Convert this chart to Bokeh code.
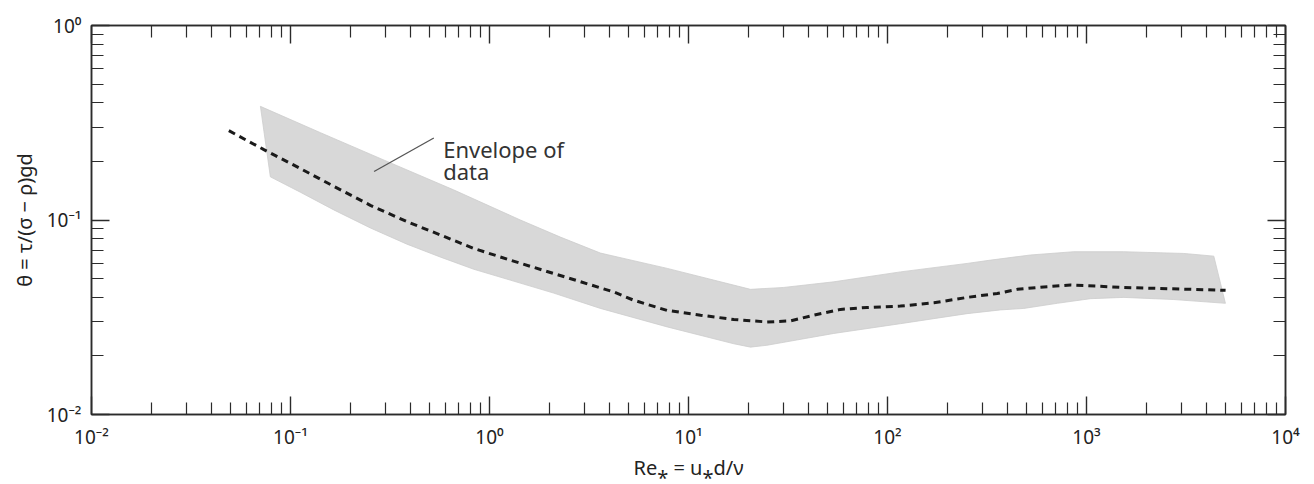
from bokeh.plotting import figure
from bokeh.models import LogAxis, FixedTicker, CustomJSTickFormatter, Range1d
from bokeh.core.properties import value
from bokeh.embed import file_html
from bokeh.resources import INLINE

# Shields curve (dashed) : critical Shields parameter vs boundary Reynolds number
shields_re = [0.049, 0.0735, 0.112, 0.165, 0.252, 0.385, 0.568, 0.834, 1.27, 2.10,
              4.2, 5.3, 7.8, 11.5, 16.9, 24.8, 32.6, 42.6, 58, 79, 116, 171, 251,
              356, 449, 610, 832, 1130, 1540, 2270, 3330, 5000]
shields_theta = [0.288, 0.230, 0.184, 0.149, 0.119, 0.098, 0.0837, 0.0714, 0.0622,
                 0.0531, 0.0427, 0.0387, 0.0343, 0.0324, 0.0308, 0.0299, 0.0303,
                 0.0324, 0.0347, 0.0355, 0.0361, 0.0375, 0.0400, 0.0419, 0.0440,
                 0.0453, 0.0463, 0.0457, 0.0450, 0.0445, 0.0440, 0.0435]

# Envelope of data: upper boundary (left -> right, incl. right edge)
env_upper_re = [0.0706, 0.1416, 0.306, 0.659, 1.43, 2.27, 3.61, 7.82, 20.5, 30.1,
                53.7, 116, 251, 330, 523, 863, 1540, 3083, 4362, 4713]
env_upper_theta = [0.384, 0.281, 0.200, 0.143, 0.100, 0.0817, 0.0676, 0.0564, 0.0440,
                   0.0450, 0.0481, 0.0541, 0.0598, 0.0622, 0.0661, 0.0687, 0.0687,
                   0.0673, 0.0652, 0.0473]
# Envelope of data: lower boundary (left -> right)
env_lower_re = [0.0792, 0.112, 0.165, 0.252, 0.385, 0.568, 0.834, 1.27, 2.10, 3.61,
                7.82, 16.9, 20.5, 24.8, 53.7, 116, 251, 370, 484, 713, 1047, 1540,
                2748, 4990]
env_lower_theta = [0.1667, 0.139, 0.1127, 0.0910, 0.0751, 0.0644, 0.0558, 0.0491,
                   0.0421, 0.0351, 0.0282, 0.0231, 0.0222, 0.0227, 0.0261, 0.0293,
                   0.0330, 0.0345, 0.0351, 0.0373, 0.0394, 0.0400, 0.0390, 0.0373]

# axis decades
x_decades = [-2, -1, 0, 1, 2, 3, 4]
y_decades = [-2, -1, 0]

annotation_lines = ["Envelope of", "data"]
x_label = "Re\u204e = u\u204ed/\u03bd"
y_label = "\u03b8 = \u03c4/(\u03c3 \u2212 \u03c1)gd"

FONT = "Noto Sans"
AX = "#2b2b2b"

p = figure(width=1314, height=484, x_axis_type="log", y_axis_type="log",
           x_range=Range1d(10.0 ** x_decades[0], 10.0 ** x_decades[-1]),
           y_range=Range1d(10.0 ** y_decades[0], 10.0 ** y_decades[-1]),
           output_backend="svg", toolbar_location=None,
           min_border_left=91, min_border_right=29, min_border_top=25,
           min_border_bottom=70, background_fill_color="white",
           border_fill_color="white")
p.xgrid.visible = False
p.ygrid.visible = False
p.outline_line_color = AX
p.outline_line_width = 1.5

sup_fmt = CustomJSTickFormatter(code="""
const e = Math.round(Math.log10(tick));
const sup = {'-':'\u207b','0':'\u2070','1':'\u00b9','2':'\u00b2','3':'\u00b3','4':'\u2074'};
return '10' + String(e).split('').map(c => sup[c]).join('');
""")


def make_ticker(decades):
    majors = [10.0 ** e for e in decades]
    minors = [m * 10.0 ** e for e in decades[:-1] for m in range(2, 10)]
    return FixedTicker(ticks=majors, minor_ticks=minors)


def style(ax):
    ax.major_tick_in = 18
    ax.major_tick_out = 0
    ax.minor_tick_in = 12
    ax.minor_tick_out = 0
    ax.major_tick_line_color = AX
    ax.minor_tick_line_color = AX
    ax.major_tick_line_width = 1.4
    ax.minor_tick_line_width = 1.2
    ax.axis_line_color = AX
    ax.axis_line_width = 1.5
    ax.major_label_text_font = FONT
    ax.major_label_text_font_size = "19px"
    ax.major_label_text_color = "#222"
    ax.axis_label_text_font = FONT
    ax.axis_label_text_font_style = "normal"
    ax.axis_label_text_font_size = "20px"
    ax.axis_label_text_color = "#222"


xa = p.xaxis[0]
ya = p.yaxis[0]
style(xa)
style(ya)
xa.ticker = make_ticker(x_decades)
ya.ticker = make_ticker(y_decades)
xa.formatter = sup_fmt
ya.formatter = sup_fmt
xa.axis_label = x_label
ya.axis_label = y_label
xa.major_label_standoff = 9
xa.axis_label_standoff = 1
ya.major_label_standoff = 10
ya.axis_label_standoff = 6

for side, dec in (("above", x_decades), ("right", y_decades)):
    ax = LogAxis(ticker=make_ticker(dec),
                 formatter=CustomJSTickFormatter(code="return ''"))
    style(ax)
    ax.major_label_text_font_size = "0px"
    ax.major_label_standoff = 0
    ax.axis_label_standoff = 0
    p.add_layout(ax, side)

# envelope of data
poly_x = env_upper_re + env_lower_re[::-1]
poly_y = env_upper_theta + env_lower_theta[::-1]
p.patch(poly_x, poly_y, fill_color="#d8d8d8", line_color="#cdcdcd", line_width=0.8)

# Shields curve
p.line(shields_re, shields_theta, line_color="#1a1a1a", line_width=3, line_dash="7 5")

# annotation
p.line([0.525, 0.263], [0.264, 0.1775], line_color="#555555", line_width=1.3)
p.text(x=[0.585, 0.585], y=[0.232, 0.179], text=annotation_lines,
       text_font=value(FONT), text_font_size="22px", text_baseline="alphabetic",
       text_color="#333333")

open("out.html", "w").write(file_html(p, INLINE))
